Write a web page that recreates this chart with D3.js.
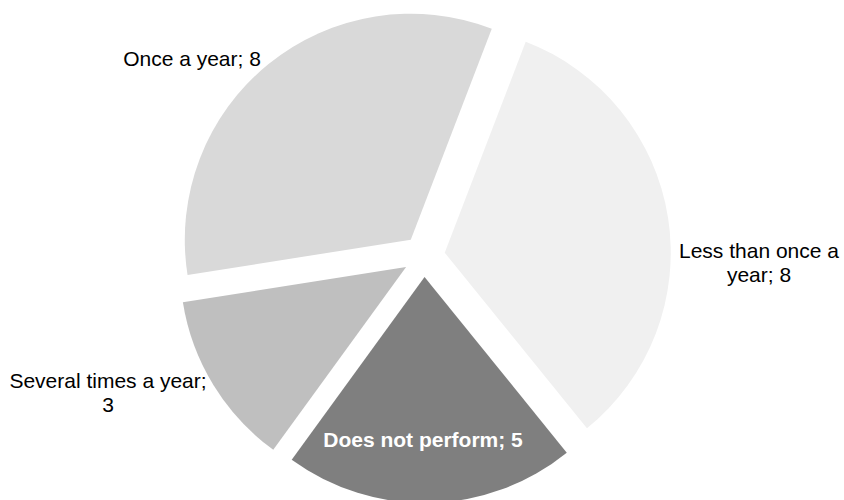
<!DOCTYPE html>
<html>
<head>
<meta charset="utf-8">
<script src="https://cdn.jsdelivr.net/npm/d3@7"></script>
<style>
  html, body { margin: 0; padding: 0; background: #ffffff; }
  svg { display: block; }
  text { font-family: "Liberation Sans", Arial, sans-serif; }
</style>
</head>
<body>
<svg id="chart" width="844" height="500"></svg>
<script>
// Survey answers, clockwise from the first slice
const categories = ["Less than once a year", "Does not perform", "Several times a year", "Once a year"];
const values = [8, 5, 3, 8];
const sliceColors = ["#f0f0f0", "#7f7f7f", "#bfbfbf", "#d9d9d9"];

// Layout
const width = 844, height = 500;
const cx = 424, cy = 256;
const radius = 226;
const explode = 21;
const startDeg = 21;
const fontSize = 21;

const svg = d3.select("#chart");
const g = svg.append("g").attr("transform", `translate(${cx},${cy})`);

const start = startDeg * Math.PI / 180;
const pie = d3.pie().sort(null).value(d => d.value)
  .startAngle(start).endAngle(start + 2 * Math.PI);
const arc = d3.arc().innerRadius(0).outerRadius(radius);

const data = categories.map((c, i) => ({ name: c, value: values[i], color: sliceColors[i] }));
const arcs = pie(data);

function offset(d, dist) {
  const mid = (d.startAngle + d.endAngle) / 2;
  return [Math.sin(mid) * dist, -Math.cos(mid) * dist];
}

const slices = g.selectAll("g.slice").data(arcs).enter().append("g")
  .attr("class", "slice")
  .attr("transform", d => { const [x, y] = offset(d, explode); return `translate(${x},${y})`; });

slices.append("path")
  .attr("d", arc)
  .attr("fill", d => d.data.color);

// Data labels: "category; value"
const labelLayout = {
  "Less than once a year": { x: 759, y: 258, lines: ["Less than once a", "year; 8"], fill: "#000", weight: "normal" },
  "Does not perform":      { x: 423, y: 447, lines: null, fill: "#fff", weight: "bold" },
  "Several times a year":  { x: 108, y: 388, lines: ["Several times a year;", "3"], fill: "#000", weight: "normal" },
  "Once a year":           { x: 192, y: 66,  lines: null, fill: "#000", weight: "normal" }
};

const lineGap = 24;
arcs.forEach(d => {
  const L = labelLayout[d.data.name];
  const full = `${d.data.name}; ${d.data.value}`;
  let lines = [full];
  if (L.lines) {
    // wrap the same label text at the given break
    const first = L.lines[0];
    lines = [first, full.slice(first.length).trim()];
  }
  const t = svg.append("text")
    .attr("x", L.x).attr("y", L.y)
    .attr("text-anchor", "middle")
    .attr("font-size", fontSize)
    .attr("font-weight", L.weight)
    .attr("fill", L.fill);
  lines.forEach((ln, i) => {
    t.append("tspan").attr("x", L.x).attr("dy", i === 0 ? 0 : lineGap).text(ln);
  });
});
</script>
</body>
</html>
